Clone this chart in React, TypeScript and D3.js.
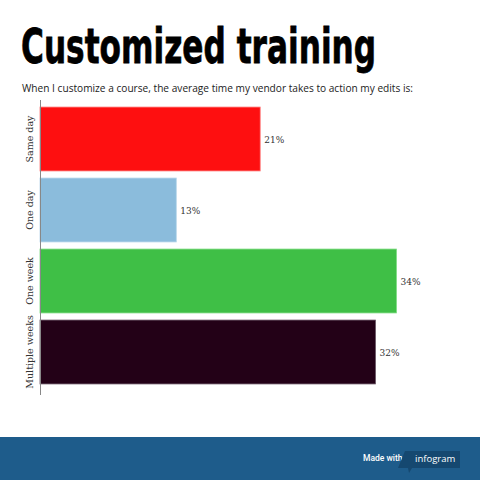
import React from 'react';
import * as d3 from 'd3';

const categories = ['Same day', 'One day', 'One week', 'Multiple weeks'];
const values = [21, 13, 34, 32];
const fills = ['#fe0f10', '#8bbcdc', '#3fbf46', '#230117'];
const strokes = ['#ff7a7a', '#b7d6ea', '#7fdc84', '#6b5866'];

const W = 480;
const H = 480;

const App: React.FC = () => {
  const x = d3.scaleLinear().domain([0, 34]).range([40, 396.5]);
  const y = d3.scaleBand<string>()
    .domain(categories)
    .range([103.5, 387.5])
    .paddingInner(0.1)
    .paddingOuter(0.05);

  return (
    <div style={{ position: 'absolute', left: 0, top: 0, width: W, height: H }}>
      <svg width={W} height={H} style={{ display: 'block', background: '#fff' }}>
        {/* Title, squeezed horizontally to look like a narrow face */}
        <g transform="translate(21,63) scale(0.65,1)">
          <text x={0} y={0} fontFamily="'DejaVu Sans', sans-serif"
            fontWeight="bold" fontSize={48} fill="#000" stroke="#000" strokeWidth={0.8}>
            Customized training
          </text>
        </g>
        <text x={22} y={92} fontFamily="'Open Sans', sans-serif" fontSize={11.5} fill="#222"
          textLength={391} lengthAdjust="spacingAndGlyphs">
          When I customize a course, the average time my vendor takes to action my edits is:
        </text>

        {/* Bars */}
        {categories.map((c, i) => {
          const y0 = y(c)!;
          const bw = y.bandwidth();
          return (
            <g key={c}>
              <rect x={x(0)} y={y0} width={x(values[i]) - x(0)} height={bw}
                fill={fills[i]} stroke={strokes[i]} strokeWidth={0.8} />
              <text x={x(values[i]) + 4} y={y0 + bw / 2 + 3.5} fontFamily="'DejaVu Serif', serif"
                fontSize={9} fill="#333">
                {values[i]}%
              </text>
              <text transform={`translate(${33},${y0 + bw / 2}) rotate(-90)`} textAnchor="middle"
                fontFamily="'DejaVu Serif', serif" fontSize={9.5} fill="#333">
                {c}
              </text>
            </g>
          );
        })}

        {/* Axis line */}
        <line x1={40.5} x2={40.5} y1={100} y2={395} stroke="#888" strokeWidth={1} />

        {/* Footer */}
        <rect x={0} y={437} width={W} height={43} fill="#1e5c8b" />
        <text x={363} y={461} fontFamily="Roboto, sans-serif" fontSize={8.5} fill="#fff" fontWeight="500">
          Made with
        </text>
        <path d="M405,451 L460,451 L460,468 L412,468 L409,473 L408,468 L398,468 Z" fill="#154870" />
        <text x={415} y={462} fontFamily="'Open Sans', sans-serif" fontSize={9.5} fill="#fff">
          infogram
        </text>
      </svg>
    </div>
  );
};

export default App;
